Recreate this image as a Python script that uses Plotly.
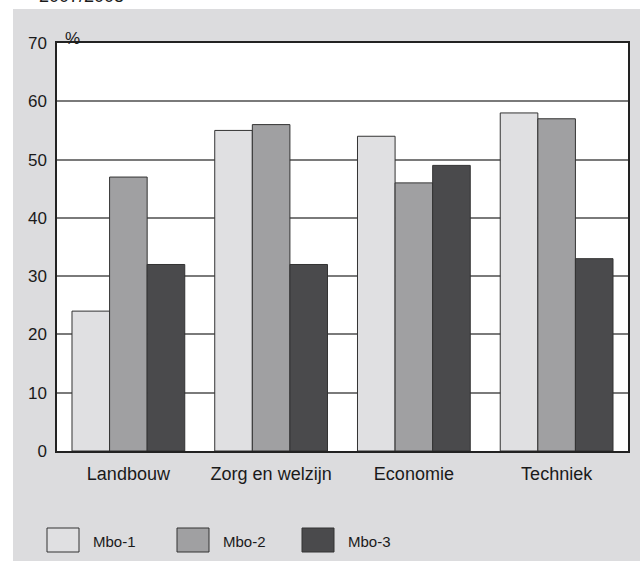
import plotly.graph_objects as go

categories = ['Landbouw', 'Zorg en welzijn', 'Economie', 'Techniek']
mbo1 = [24, 55, 54, 58]
mbo2 = [47, 56, 46, 57]
mbo3 = [32, 32, 49, 33]
series_names = ['Mbo-1', 'Mbo-2', 'Mbo-3']
series_colors = ['#e0e0e2', '#a0a0a2', '#4a4a4c']

W, H = 643, 561
L, R, T, B = 57, 628, 43, 451  # plot area in pixels


def px(x):
    return (x - L) / (R - L)


def py(y):
    return (B - y) / (B - T)


fig = go.Figure()
for name, vals, col in zip(series_names, [mbo1, mbo2, mbo3], series_colors):
    fig.add_trace(go.Bar(
        x=categories, y=vals, name=name,
        marker=dict(color=col, line=dict(color='#333333', width=1)),
        showlegend=False,
    ))

font = 'Liberation Sans, Arial, sans-serif'
shapes = [
    # white strips around the grey panel
    dict(type='rect', xref='paper', yref='paper', x0=px(0), x1=px(W), y0=py(0), y1=py(9),
         fillcolor='white', line_width=0, layer='below'),
    dict(type='rect', xref='paper', yref='paper', x0=px(0), x1=px(13), y0=py(0), y1=py(H),
         fillcolor='white', line_width=0, layer='below'),
    dict(type='rect', xref='paper', yref='paper', x0=px(640), x1=px(W), y0=py(0), y1=py(H),
         fillcolor='white', line_width=0, layer='below'),
]
annotations = [
    dict(text='%', xref='paper', yref='paper', x=px(63), y=py(27), showarrow=False,
         font=dict(size=17, color='#1a1a1a')),
    # title sits mostly above the page edge, as in the source
    dict(text='2007/2008', xref='paper', yref='paper', x=px(37), y=py(8), xanchor='left',
         yanchor='bottom', showarrow=False, font=dict(size=18, color='#1a1a1a')),
]

# legend drawn by hand (large swatches)
legend_x = [47, 177, 302]
for name, col, lx in zip(series_names, series_colors, legend_x):
    shapes.append(dict(type='rect', xref='paper', yref='paper', x0=px(lx), x1=px(lx + 32),
                       y0=py(528), y1=py(552), fillcolor=col,
                       line=dict(color='#333333', width=1)))
    annotations.append(dict(text=name, xref='paper', yref='paper', x=px(lx + 44), y=py(541),
                            xanchor='left', yanchor='middle', showarrow=False,
                            font=dict(size=15, color='#1a1a1a')))

fig.update_layout(
    width=W, height=H,
    margin=dict(l=L, r=W - R, t=T, b=H - B),
    paper_bgcolor='#dcdcde',
    plot_bgcolor='white',
    barmode='group',
    bargap=0.21,
    bargroupgap=0,
    font=dict(family=font, size=17, color='#1a1a1a'),
    shapes=shapes,
    annotations=annotations,
    xaxis=dict(showline=True, linecolor='#222', linewidth=1.5, mirror=True,
               ticks='', tickfont=dict(size=18), ticklabelstandoff=6),
    yaxis=dict(range=[0, 70], dtick=10, showline=True, linecolor='#222', linewidth=1.5,
               mirror=True, showgrid=True, gridcolor='#7a7a7a', gridwidth=1.5,
               zeroline=False, ticks='', tickfont=dict(size=17), ticklabelstandoff=5),
)

# the page has a default 8px body margin; drop it so the figure sits at the corner
fig.write_html('out.html', config={'displayModeBar': False},
               post_script="document.body.style.margin='0';")
